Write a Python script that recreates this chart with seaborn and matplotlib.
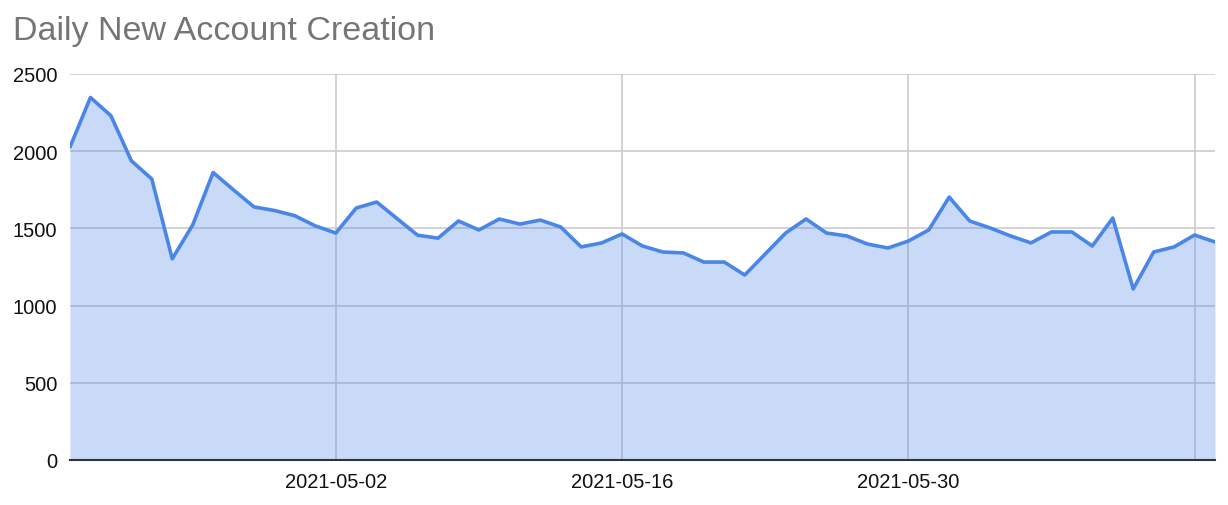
import numpy as np
import pandas as pd
import matplotlib
matplotlib.use("Agg")
import matplotlib.pyplot as plt
import matplotlib.dates as mdates
import seaborn as sns

start_date = "2021-04-19"
accounts = [2027, 2348, 2230, 1938, 1820, 1303, 1522, 1862, 1749, 1639, 1616, 1582,
            1516, 1470, 1632, 1671, 1563, 1456, 1437, 1548, 1490, 1561, 1528, 1554,
            1509, 1380, 1406, 1464, 1386, 1347, 1341, 1282, 1282, 1198, 1334, 1470,
            1561, 1470, 1451, 1399, 1373, 1418, 1490, 1703, 1548, 1503, 1451, 1406,
            1477, 1477, 1386, 1567, 1108, 1347, 1380, 1457, 1412]
tick_dates = ["2021-05-02", "2021-05-16", "2021-05-30", "2021-06-13"]
tick_labels = ["2021-05-02", "2021-05-16", "2021-05-30", ""]
y_ticks = [0, 500, 1000, 1500, 2000, 2500]

dates = pd.date_range(start_date, periods=len(accounts), freq="D")
df = pd.DataFrame({"date": dates, "accounts": accounts})

sns.set_theme(style="white")
plt.rcParams["font.family"] = ["Liberation Sans", "DejaVu Sans"]

fig = plt.figure(figsize=(12.28, 5.06), dpi=100)
ax = fig.add_axes([70/1228, 1-461/506, (1215-70)/1228, (461-75)/506])

blue = "#4a86e8"
ax.fill_between(df["date"], df["accounts"], 0, color=blue, alpha=0.3, linewidth=0, zorder=2)
sns.lineplot(data=df, x="date", y="accounts", ax=ax, color=blue, linewidth=2.6, zorder=3)

ax.set_xlim(dates[0], dates[-1])
ax.set_ylim(0, 2500)
ax.set_yticks(y_ticks)
ax.set_yticklabels([str(v) for v in y_ticks])
ax.set_xticks(pd.to_datetime(tick_dates))
ax.set_xticklabels(tick_labels)
ax.grid(True, color="#cccccc", linewidth=1.2, zorder=1)
ax.set_axisbelow(True)
ax.tick_params(axis="both", length=0, labelsize=14.5, colors="#111111")
ax.tick_params(axis="y", pad=9)
ax.tick_params(axis="x", pad=9)
ax.set_xlabel("")
ax.set_ylabel("")
for s in ["left", "right", "top"]:
    ax.spines[s].set_visible(False)
ax.spines["bottom"].set_color("#333333")
ax.spines["bottom"].set_linewidth(1.5)
ax.spines["bottom"].set_zorder(4)

fig.text(13/1228, 1-40/506, "Daily New Account Creation", fontsize=24.5, color="#757575",
         ha="left", va="baseline")

fig.savefig("out.png", dpi=100)
